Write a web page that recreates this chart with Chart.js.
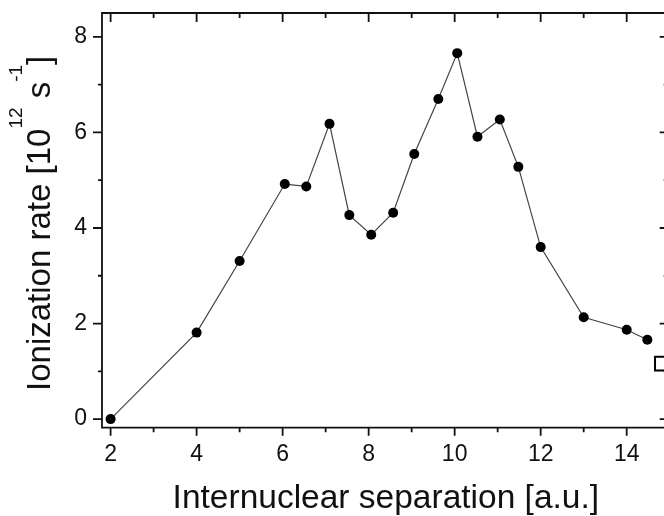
<!DOCTYPE html>
<html>
<head>
<meta charset="utf-8">
<script src="https://cdn.jsdelivr.net/npm/chart.js@4/dist/chart.umd.min.js"></script>
<style>
  html, body { margin: 0; padding: 0; background: #fff; overflow: hidden; }
  #wrap { width: 664px; height: 516px; overflow: hidden; position: relative; }
  #wrap canvas { position: absolute; left: 0; top: 0; }
</style>
</head>
<body>
<div id="wrap"><canvas id="c" width="690" height="516"></canvas></div>
<script>
// Internuclear separation (a.u.) and computed ionization rate (10^12 s^-1)
const separation = [2, 4, 5, 6.05, 6.55, 7.09, 7.55, 8.06, 8.57, 9.06, 9.62, 10.06, 10.53, 11.05, 11.48, 12.0, 13.0, 14.0, 14.48];
const ionRate    = [0, 1.81, 3.31, 4.92, 4.87, 6.18, 4.27, 3.86, 4.32, 5.55, 6.70, 7.66, 5.91, 6.27, 5.28, 3.60, 2.13, 1.87, 1.66];

// Single open-square point at the right edge
const squareX = [14.82];
const squareY = [1.16];

// Axis ticks
const xMajorTicks = [2, 4, 6, 8, 10, 12, 14];
const xMinorTicks = [3, 5, 7, 9, 11, 13];
const yMajorTicks = [0, 2, 4, 6, 8];
const yMinorTicks = [1, 3, 5, 7];

const FONT = '"Liberation Sans", Arial, Helvetica, sans-serif';
const INK = '#111';

// Box frame with Origin-style ticks: outward on left/bottom, inward on top/right
const framePlugin = {
  id: 'frame',
  beforeDatasetsDraw(chart) {
    const {ctx, chartArea: a, scales: {x, y}} = chart;
    ctx.save();
    ctx.strokeStyle = INK;
    ctx.lineWidth = 1.8;
    ctx.lineCap = 'butt';
    ctx.beginPath();
    ctx.rect(a.left, a.top, a.right - a.left, a.bottom - a.top);
    ctx.stroke();
    const tick = (x1, y1, x2, y2) => { ctx.moveTo(x1, y1); ctx.lineTo(x2, y2); };
    ctx.beginPath();
    xMajorTicks.forEach(v => {
      const px = x.getPixelForValue(v);
      tick(px, a.bottom, px, a.bottom + 8);
      tick(px, a.top, px, a.top + 9);
    });
    xMinorTicks.forEach(v => {
      const px = x.getPixelForValue(v);
      tick(px, a.bottom, px, a.bottom + 4.5);
      tick(px, a.top, px, a.top + 5);
    });
    yMajorTicks.forEach(v => {
      const py = y.getPixelForValue(v);
      tick(a.left, py, a.left - 9, py);
      tick(a.right, py, a.right - 10, py);
    });
    yMinorTicks.forEach(v => {
      const py = y.getPixelForValue(v);
      tick(a.left, py, a.left - 4, py);
      tick(a.right, py, a.right - 6, py);
    });
    ctx.stroke();
    ctx.restore();
  }
};

// Vertical axis title with superscript exponents
const yTitlePlugin = {
  id: 'yTitle',
  afterDraw(chart) {
    const {ctx, chartArea: a} = chart;
    const parts = [
      {t: 'Ionization rate [10', sup: false},
      {t: '12', sup: true},
      {t: ' s', sup: false},
      {t: '-1', sup: true},
      {t: ']', sup: false}
    ];
    const main = '33px ' + FONT, small = '19px ' + FONT;
    ctx.save();
    let total = 0;
    parts.forEach(p => { ctx.font = p.sup ? small : main; p.w = ctx.measureText(p.t).width; total += p.w; });
    ctx.translate(50, (a.top + a.bottom) / 2 + 3);
    ctx.rotate(-Math.PI / 2);
    ctx.fillStyle = INK;
    ctx.textBaseline = 'alphabetic';
    ctx.textAlign = 'left';
    let cx = -total / 2;
    parts.forEach(p => {
      ctx.font = p.sup ? small : main;
      ctx.fillText(p.t, cx, p.sup ? -28 : 0);
      cx += p.w;
    });
    ctx.restore();
  }
};

new Chart(document.getElementById('c'), {
  type: 'scatter',
  data: {
    datasets: [
      {
        data: separation.map((v, i) => ({x: v, y: ionRate[i]})),
        showLine: true,
        borderColor: '#444',
        borderWidth: 1.2,
        pointRadius: 5,
        pointBackgroundColor: '#000',
        pointBorderColor: '#000',
        pointBorderWidth: 0,
        tension: 0
      },
      {
        data: squareX.map((v, i) => ({x: v, y: squareY[i]})),
        pointStyle: 'rect',
        pointRadius: 9.8,
        pointBackgroundColor: 'rgba(255,255,255,0)',
        pointBorderColor: '#000',
        pointBorderWidth: 2,
        clip: false
      }
    ]
  },
  options: {
    responsive: false,
    animation: false,
    events: [],
    layout: { padding: { left: 0, top: 13, right: 20.3, bottom: 0 } },
    plugins: { legend: { display: false }, tooltip: { enabled: false } },
    scales: {
      x: {
        type: 'linear',
        min: 1.8,
        max: 15,
        grid: { display: false, drawTicks: false },
        border: { display: false },
        afterBuildTicks: s => { s.ticks = xMajorTicks.map(v => ({value: v})); },
        afterFit: s => { s.height = 88.3; s.paddingLeft = 0; s.paddingRight = 0; },
        ticks: { color: INK, font: { family: FONT, size: 23 }, padding: 13, maxRotation: 0 },
        title: {
          display: true,
          text: 'Internuclear separation [a.u.]',
          color: INK,
          font: { family: FONT, size: 33.5, lineHeight: 1 },
          padding: { top: 0, bottom: 0 }
        }
      },
      y: {
        type: 'linear',
        min: -0.18,
        max: 8.5,
        grid: { display: false, drawTicks: false },
        border: { display: false },
        afterBuildTicks: s => { s.ticks = yMajorTicks.map(v => ({value: v})); },
        afterFit: s => { s.width = 102; s.paddingTop = 0; s.paddingBottom = 0; },
        ticks: { color: INK, font: { family: FONT, size: 23 }, padding: 15 }
      }
    }
  },
  plugins: [framePlugin, yTitlePlugin]
});
</script>
</body>
</html>
